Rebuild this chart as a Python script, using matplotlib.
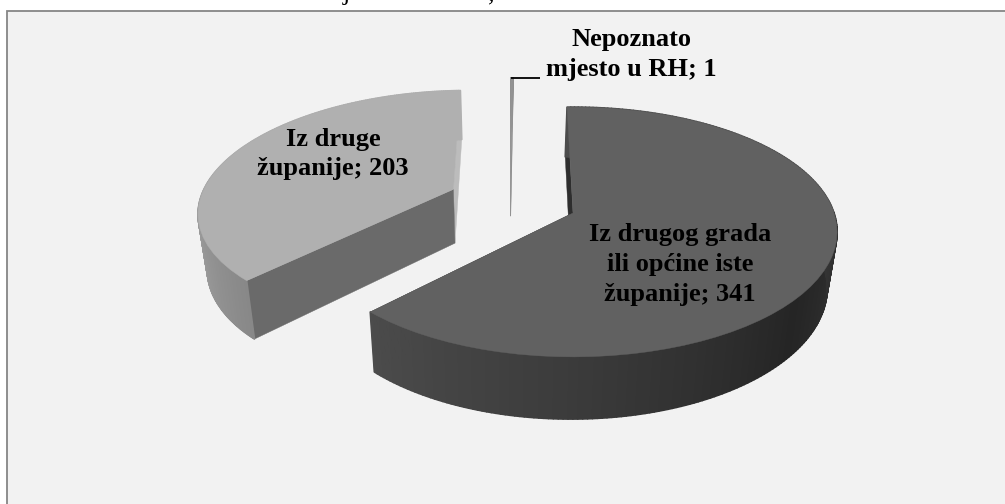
import numpy as np
import matplotlib
matplotlib.use("Agg")
import matplotlib.pyplot as plt
from matplotlib.collections import PolyCollection
from matplotlib.patches import Polygon, Rectangle
from matplotlib.transforms import Transform

# ---- data
categories = ["Iz drugog grada\nili općine iste\nžupanije", "Iz druge\nžupanije", "Nepoznato\nmjesto u RH"]
values = [341, 203, 1]

# ---- styling / layout
W, H = 1005, 504
CX, CY, A, B, K = 573.0, 213.0, 261.0, 122.0, 0.152   # projection of the pie plane
BOT = dict(cx=CX - 2, cy=CY + 55, a=A * 0.97, b=B * 1.05, k=K)  # lower rim
TOP = dict(cx=CX, cy=CY, a=A, b=B, k=K)
START = 91.5
OFFSETS = [(0.0, 0.0), (-0.472, 0.2), (-0.25, 0.335)]  # slice displacement on the plane
RADIUS = [1.0, 0.985, 1.0]
DEPTH = [1.0, 1.0, 0.8]
RIM_LW = [1.2, 1.2, 0.2]
TOP_COL = ["#616161", "#b0b0b0", "#939393"]
# flat cut faces: colour at the rim's first end, colour at its last end
FLAT_A = ["#2e2e2e", "#bcbcbc", "#8a8a8a"]
FLAT_B = ["#2e2e2e", "#6a6a6a", "#8a8a8a"]
# rim shade per angle (degrees, counter-clockwise, in 0..360)
RIM = [([225, 270, 320, 360], [0x4c, 0x3b, 0x25, 0x34]),
       ([90, 170, 226], [0xb0, 0xac, 0x88]),
       ([0, 360], [0x90, 0x90])]


def project(xy, cx, cy, a, b, k):
    xy = np.atleast_2d(xy)
    d = 1 + k * xy[:, 1]
    return np.column_stack([cx + a * xy[:, 0] / d, cy - b * xy[:, 1] / d])


class Plane(Transform):
    input_dims = output_dims = 2
    is_affine = False
    has_inverse = False

    def transform_non_affine(self, values):
        return project(values, **TOP)


fig = plt.figure(figsize=(W / 100, H / 100), dpi=100, facecolor="white")
ax = fig.add_axes([0, 0, 1, 1])
wedges, _ = ax.pie(values, startangle=START, counterclock=False, colors=TOP_COL, radius=1)
ax.set(aspect="auto", xlim=(0, W), ylim=(H, 0))
ax.axis("off")

ax.add_patch(Rectangle((7, 11), W + 20, H + 20, facecolor="#f2f2f2", edgecolor="#868686",
                       linewidth=1.3, zorder=0))

plane = Plane()
for i, w in enumerate(wedges):
    base = {0: 4, 1: 2, 2: 3}[i]
    ox, oy = OFFSETS[i]
    r = RADIUS[i]
    w.set_center((ox, oy))
    w.set_radius(r)
    w.set_transform(plane + ax.transData)
    w.set_zorder(base + 0.5)
    w.set_edgecolor(TOP_COL[i])
    w.set_linewidth(0.3)

    bot = dict(BOT)
    bot["cy"] = CY + (BOT["cy"] - CY) * DEPTH[i]
    t = np.radians(np.linspace(w.theta1, w.theta2, 241))
    rim = np.column_stack([ox + r * np.cos(t), oy + r * np.sin(t)])
    up, lo = project(rim, **TOP), project(rim, **bot)
    quads = [[up[j], up[j + 1], lo[j + 1], lo[j]] for j in range(len(t) - 1)]
    deg = np.degrees(t[:-1]) % 360
    grey = np.interp(deg, *RIM[i]) / 255
    cols = [(g, g, g) for g in grey]
    ax.add_collection(PolyCollection(quads, facecolors=cols, edgecolors=cols, linewidths=RIM_LW[i],
                                     zorder=base + 0.2))
    # flat cut faces, from centre to both ends of the rim
    c = np.array([[ox, oy]])
    for end, col in ((rim[0], FLAT_A[i]), (rim[-1], FLAT_B[i])):
        pts = np.vstack([c, end[None, :]])
        pu, pl = project(pts, **TOP), project(pts, **bot)
        ax.add_patch(Polygon(np.vstack([pu, pl[::-1]]), closed=True, facecolor=col,
                             edgecolor=col, linewidth=0.3, zorder=base + 0.1))

font = dict(family="Liberation Serif", color="black", ha="center", va="center", linespacing=1.38)
lab = dict(font, fontweight="bold", fontsize=19, zorder=6)
ax.text(680, 264.5, f"{categories[0]}; {values[0]}", **lab)
ax.text(333, 154, f"{categories[1]}; {values[1]}", **lab)
ax.text(631.5, 54.5, f"{categories[2]}; {values[2]}", **lab)
ax.plot([511, 540], [77.5, 77.5], color="black", lw=1.3, zorder=6, solid_capstyle="butt")

# clipped remains of the sentence above the chart
ax.text(346, 0, "j", family="Liberation Serif", fontsize=19, ha="center", va="baseline", zorder=6)
ax.text(491, 0, ",", family="Liberation Serif", fontsize=19, ha="center", va="baseline", zorder=6)

fig.savefig("out.png", dpi=100, facecolor="white")
